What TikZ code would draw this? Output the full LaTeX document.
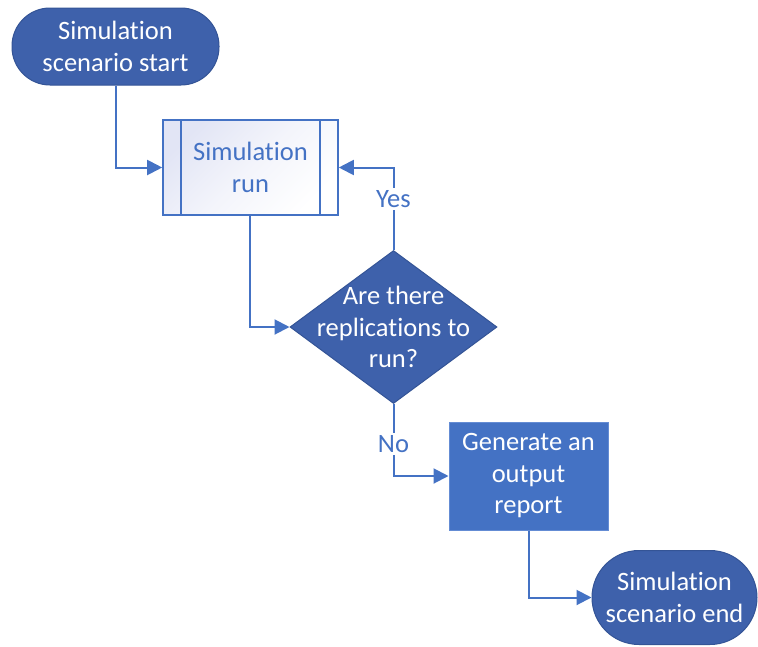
\documentclass[tikz,border=0pt]{standalone}
\usepackage{fontspec}
\setmainfont[Ligatures={NoCommon}]{Carlito}
\usetikzlibrary{shapes.geometric,arrows.meta}
\definecolor{accent}{RGB}{68,114,196}
\definecolor{deepblue}{RGB}{62,97,171}
\definecolor{deepedge}{RGB}{52,84,150}
\definecolor{lightedge}{RGB}{100,140,212}
\definecolor{lavender}{RGB}{226,229,245}
\tikzset{
  x=1pt, y=-1pt,
  txt/.style={font=\fontsize{26.5}{31.5}\selectfont, align=center},
  terminal/.style={txt, draw=deepedge, line width=1pt, fill=deepblue, text=white,
    rounded corners=#1, inner sep=0pt},
  process/.style={txt, draw=lightedge, line width=1pt, fill=accent, text=white, inner sep=0pt},
  subproc/.style={txt, draw=accent, line width=1.6pt, text=accent, inner sep=0pt,
    left color=lavender, right color=white, middle color=white!60!lavender, shading angle=45},
  decision/.style={diamond, draw=deepedge, line width=1pt, fill=deepblue, inner sep=0pt},
  flow/.style={draw=accent, line width=2pt, -{Triangle[length=15pt,width=15pt]}},
  tag/.style={txt, text=accent, fill=white, inner sep=2pt}
}
\begin{document}
\begin{tikzpicture}
\useasboundingbox (0,0) rectangle (758,646);

% shapes
\node[terminal=38pt, minimum width=207pt, minimum height=77pt] (start) at (115.5,46.5)
  {Simulation\\scenario start};
\node[subproc, minimum width=175pt, minimum height=95pt] (run) at (250.5,167.5)
  {Simulation\\run};
\draw[accent, line width=1.6pt] ([xshift=19pt]run.north west) -- ([xshift=19pt]run.south west)
  ([xshift=-19pt]run.north east) -- ([xshift=-19pt]run.south east);
\node[decision, minimum width=207pt, minimum height=153pt] (ask) at (393.5,327) {};
\node[txt, text=white] (asktext) at (ask.center) {Are there\\replications to\\run?};
\node[process, minimum width=159pt, minimum height=108pt] (gen) at (528.5,476)
  {Generate an\\output\\report};
\node[terminal=47pt, minimum width=165pt, minimum height=94pt] (finish) at (674.5,597.5)
  {Simulation\\scenario end};

% corner points of the connectors
\coordinate (c1) at (start.south |- run.west);
\coordinate (c2) at (run.south |- ask.west);
\coordinate (c3) at (ask.north |- run.east);
\coordinate (c4) at (ask.south |- gen.west);
\coordinate (c5) at (gen.south |- finish.west);

% connectors
\draw[flow] (start.south) -- (c1) -- (run.west);
\draw[flow] ([xshift=-1pt]run.south) -- ([xshift=-1pt]c2) -- (ask.west);
\draw[flow] (ask.north) -- (c3) -- (run.east);
\draw[flow] (ask.south) -- (c4) -- (gen.west);
\draw[flow] (gen.south) -- (c5) -- (finish.west);

% branch labels
\node[tag] (yes) at (393.5,199) {Yes};
\node[tag] (no) at (393.5,444) {No};
\end{tikzpicture}
\end{document}
